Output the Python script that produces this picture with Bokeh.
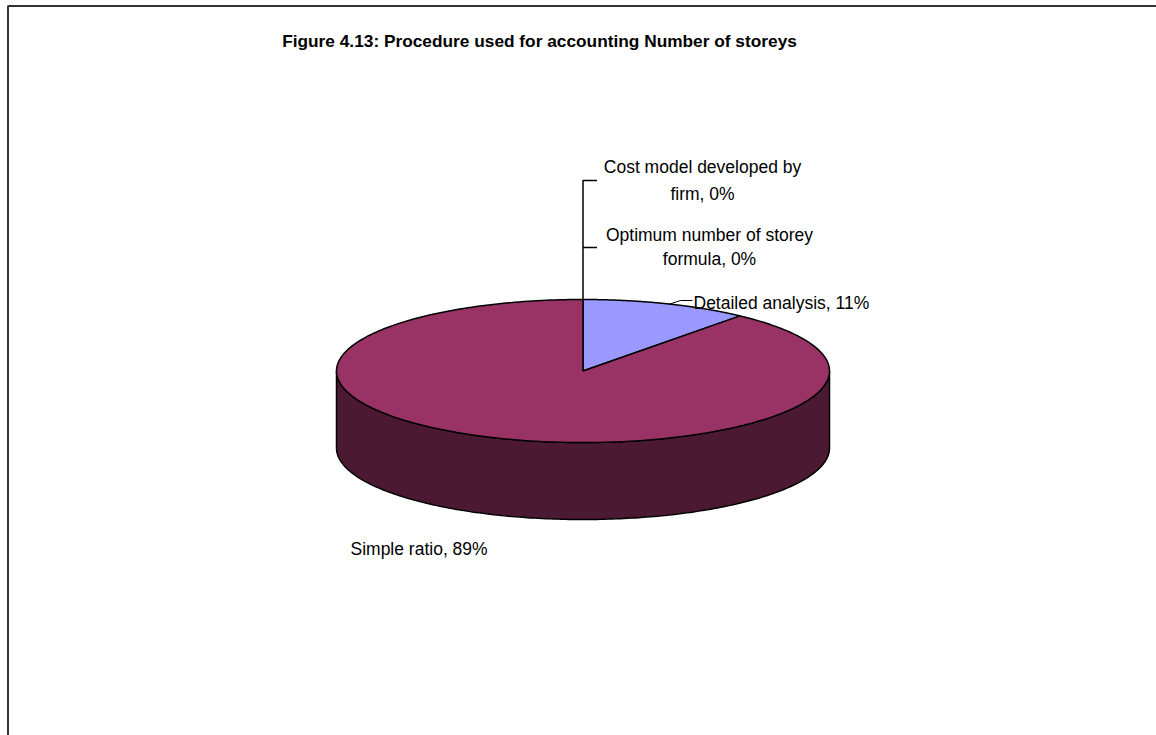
import numpy as np
from bokeh.plotting import figure
from bokeh.models import Range1d
from bokeh.embed import file_html
from bokeh.resources import INLINE
from bokeh.core.properties import value

# ---- data ----
title = "Figure 4.13: Procedure used for accounting Number of storeys"
categories = ["Detailed analysis", "Simple ratio",
              "Optimum number of storey formula", "Cost model developed by firm"]
values = [11, 89, 0, 0]
colors = ["#9999FF", "#993366", "#FFFFCC", "#CCFFFF"]
labels = ["Detailed analysis, 11%", "Simple ratio, 89%",
          "Optimum number of storey\nformula, 0%", "Cost model developed by\nfirm, 0%"]

# ---- layout ----
W, H = 1156, 735
CX, CY, RX, RY, DEPTH = 582.5, 370.5, 246.5, 71.5, 77
FONT = value("Liberation Sans")

p = figure(width=W, height=H, output_backend="svg", toolbar_location=None,
           x_range=Range1d(0, W), y_range=Range1d(H, 0), min_border=0,
           x_axis_location=None, y_axis_location=None)
p.grid.visible = False
p.outline_line_color = None
p.background_fill_color = "white"
p.border_fill_color = "white"


def ell(theta, dy=0.0):
    t = np.radians(theta)
    return CX + RX * np.sin(t), CY - RY * np.cos(t) + dy


def darker(hexc, f=0.5):
    r, g, b = (int(hexc[i:i + 2], 16) for i in (1, 3, 5))
    return "#%02x%02x%02x" % (int(r * f), int(g * f), int(b * f))


total = float(sum(values))
bounds = np.concatenate([[0.0], np.cumsum(values) / total * 360.0])

# side walls (front half: 90..270 deg clockwise from top)
side_xs, side_ys, side_cols = [], [], []
for i, v in enumerate(values):
    a, b = max(bounds[i], 90.0), min(bounds[i + 1], 270.0)
    if v <= 0 or b <= a:
        continue
    th = np.linspace(a, b, 200)
    tx, ty = ell(th)
    bx, by = ell(th[::-1], DEPTH)
    side_xs.append(list(tx) + list(bx))
    side_ys.append(list(ty) + list(by))
    side_cols.append(darker(colors[i]))
p.patches(side_xs, side_ys, fill_color=side_cols, line_color="black", line_width=1.5)

# top faces
top_xs, top_ys, top_cols = [], [], []
for i, v in enumerate(values):
    if v <= 0:
        continue
    th = np.linspace(bounds[i], bounds[i + 1], 300)
    tx, ty = ell(th)
    top_xs.append([CX] + list(tx))
    top_ys.append([CY] + list(ty))
    top_cols.append(colors[i])
p.patches(top_xs, top_ys, fill_color=top_cols, line_color="black", line_width=1.5)

# leader lines
top_x, top_y = ell(0.0)
p.line([top_x, top_x, top_x + 14], [top_y, 180, 180], line_color="black", line_width=1.5)
p.line([top_x, top_x + 14], [247, 247], line_color="black", line_width=1.5)
p.line([668, 680, 692], [304, 300, 300], line_color="black", line_width=1)

# labels
label_layout = [  # (x, [line y...], align)
    (693, [302], "left"),
    (350, [548], "left"),
    (709, [234, 258], "center"),
    (702, [166, 193], "center"),
]
tx_, ty_, tt_, ta_ = [], [], [], []
for lab, (x, ys, al) in zip(labels, label_layout):
    for line, y in zip(lab.split("\n"), ys):
        tx_.append(x); ty_.append(y); tt_.append(line); ta_.append(al)
for al in ("left", "center"):
    idx = [k for k in range(len(tt_)) if ta_[k] == al]
    p.text([tx_[k] for k in idx], [ty_[k] for k in idx], text=[tt_[k] for k in idx],
           text_align=al, text_baseline="middle", text_font=FONT,
           text_font_size="17.5px", text_color="black")

# title
p.text([539], [40], text=[title], text_align="center", text_baseline="middle",
       text_font=FONT, text_font_size="17.3px", text_font_style="bold", text_color="black")

# chart border (left and top visible)
p.line([7.5, 7.5, W], [H, 5.5, 5.5], line_color="#333333", line_width=2)

open("out.html", "w").write(file_html(p, INLINE))
